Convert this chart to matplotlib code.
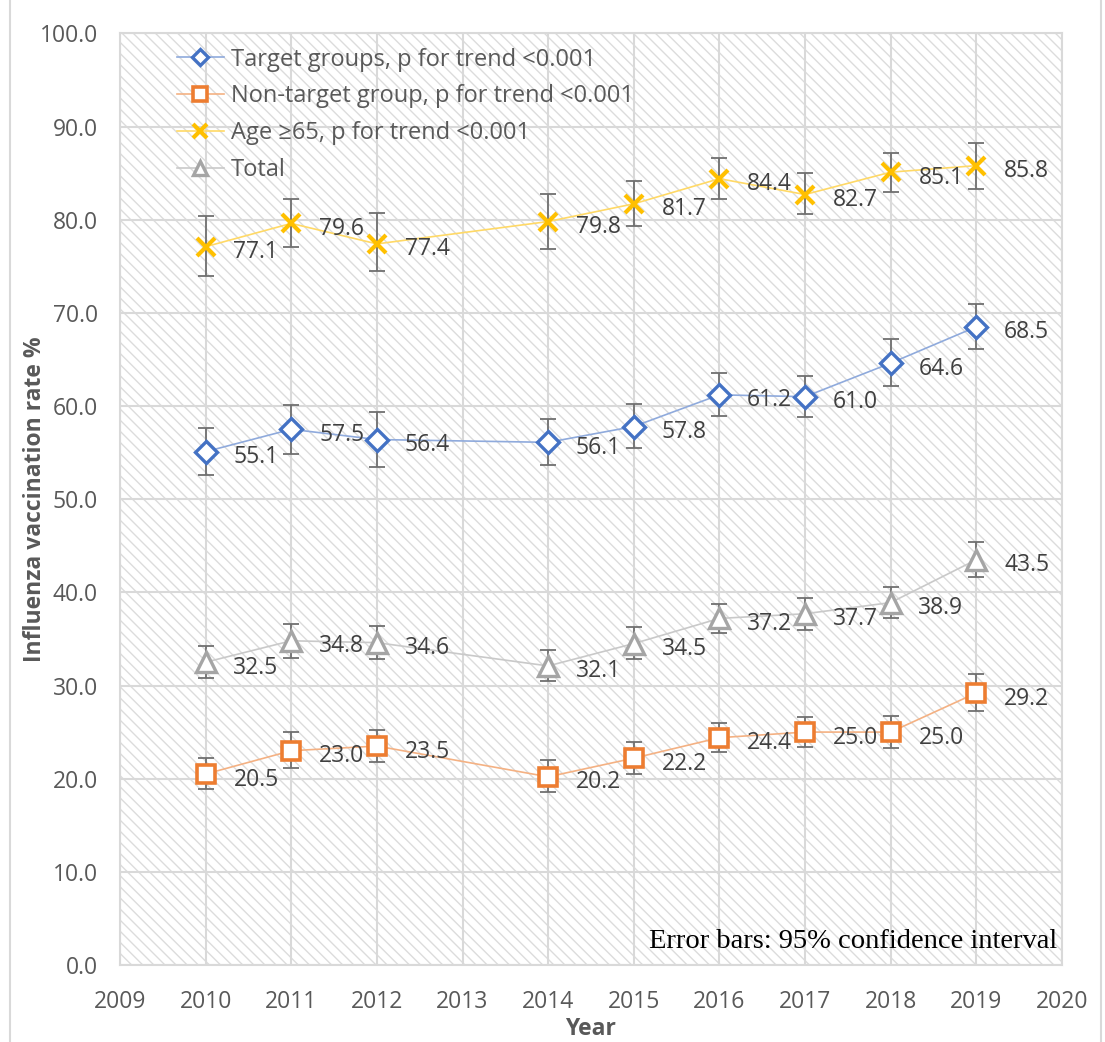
import matplotlib
matplotlib.use("Agg")
import matplotlib.pyplot as plt
from matplotlib.patches import Rectangle

plt.rcParams['font.family'] = ['Open Sans', 'DejaVu Sans']
plt.rcParams['hatch.color'] = '#dcdcdc'
plt.rcParams['hatch.linewidth'] = 1.0

# survey years (no 2013 wave)
years = [2010, 2011, 2012, 2014, 2015, 2016, 2017, 2018, 2019]

target = [55.1, 57.5, 56.4, 56.1, 57.8, 61.2, 61.0, 64.6, 68.5]
target_lo = [52.6, 54.9, 53.5, 53.7, 55.5, 58.9, 58.8, 62.1, 66.1]
target_hi = [57.6, 60.1, 59.4, 58.6, 60.2, 63.5, 63.2, 67.2, 71.0]

nontarget = [20.5, 23.0, 23.5, 20.2, 22.2, 24.4, 25.0, 25.0, 29.2]
nontarget_lo = [18.9, 21.1, 21.8, 18.6, 20.5, 22.9, 23.4, 23.3, 27.3]
nontarget_hi = [22.2, 25.0, 25.2, 22.0, 23.9, 26.0, 26.6, 26.7, 31.2]

age65 = [77.1, 79.6, 77.4, 79.8, 81.7, 84.4, 82.7, 85.1, 85.8]
age65_lo = [74.0, 77.1, 74.5, 76.8, 79.3, 82.2, 80.6, 83.0, 83.3]
age65_hi = [80.4, 82.2, 80.7, 82.8, 84.2, 86.6, 85.0, 87.2, 88.2]

total = [32.5, 34.8, 34.6, 32.1, 34.5, 37.2, 37.7, 38.9, 43.5]
total_lo = [30.8, 33.0, 32.8, 30.5, 32.8, 35.6, 36.0, 37.2, 41.6]
total_hi = [34.2, 36.6, 36.4, 33.8, 36.3, 38.8, 39.4, 40.6, 45.4]

xticks = list(range(2009, 2021))
yticks = [0, 10, 20, 30, 40, 50, 60, 70, 80, 90, 100]

fig = plt.figure(figsize=(11.05, 10.42), dpi=100)
# light outer frame
fig.patches.append(Rectangle((0.009, -0.01), 0.987, 1.02, transform=fig.transFigure,
                             fill=False, edgecolor='#d9d9d9', linewidth=1.5))
ax = fig.add_axes([0.1086, 0.0739, 0.8524, 0.8941])

# hatched plot area
ax.add_patch(Rectangle((0, 0), 1, 1, transform=ax.transAxes, facecolor='white',
                       edgecolor='#dcdcdc', hatch='\\\\\\', linewidth=0, zorder=0))

series = [
    (target, target_lo, target_hi, 'D', '#4472c4', '#8faadc', 11, 2.4,
     'Target groups, p for trend <0.001'),
    (nontarget, nontarget_lo, nontarget_hi, 's', '#ed7d31', '#f4b183', 13, 2.6,
     'Non-target group, p for trend <0.001'),
    (age65, age65_lo, age65_hi, 'x', '#ffc000', '#ffd966', 13, 3.0,
     'Age \u226565, p for trend <0.001'),
    (total, total_lo, total_hi, '^', '#a5a5a5', '#c9c9c9', 14, 2.4,
     'Total'),
]

for vals, lo, hi, mk, mcol, lcol, ms, mew, label in series:
    yerr = [[v - l for v, l in zip(vals, lo)], [h - v for v, h in zip(vals, hi)]]
    ax.errorbar(years, vals, yerr=yerr, fmt='none', ecolor='#707070',
                elinewidth=1.3, capsize=6, capthick=1.3, zorder=3)
    ax.plot(years, vals, color=lcol, linewidth=1.2, marker=mk, markersize=ms,
            markerfacecolor='white' if mk != 'x' else mcol, markeredgecolor=mcol,
            markeredgewidth=mew, label=label, zorder=4)
    for x, v in zip(years, vals):
        ax.annotate(f'{v:.1f}', (x, v), xytext=(20, -4), textcoords='offset points',
                    ha='left', va='center', fontsize=16.5, color='#404040', zorder=5)

ax.set_xlim(2009, 2020)
ax.set_ylim(0, 100)
ax.set_xticks(xticks)
ax.set_yticks(yticks)
ax.set_yticklabels([f'{t:.1f}' for t in yticks])
ax.tick_params(length=0, labelsize=16.5, labelcolor='#595959')
ax.tick_params(axis='x', pad=18)
ax.tick_params(axis='y', pad=16)
ax.grid(True, color='#d9d9d9', linewidth=1.5, zorder=1)
ax.set_axisbelow(True)
for s in ax.spines.values():
    s.set_color('#d9d9d9')
    s.set_linewidth(1.5)

ax.set_xlabel('Year', fontsize=16.5, fontweight='bold', color='#595959', labelpad=2)
ax.set_ylabel('Influenza vaccination rate %', fontsize=16.5, fontweight='bold',
              color='#595959')
ax.yaxis.set_label_coords(-0.077, 0.5)

ax.legend(loc='upper left', bbox_to_anchor=(0.045, 1.0), frameon=False,
          fontsize=17, labelcolor='#595959', handlelength=2.0, handletextpad=0.3,
          labelspacing=0.55, borderaxespad=0.2, markerscale=0.75)

ax.text(0.995, 0.012, 'Error bars: 95% confidence interval', transform=ax.transAxes,
        ha='right', va='bottom', fontsize=20.5, family=['Liberation Serif', 'DejaVu Serif'],
        color='black', zorder=6)

fig.savefig('out.png', dpi=100)
